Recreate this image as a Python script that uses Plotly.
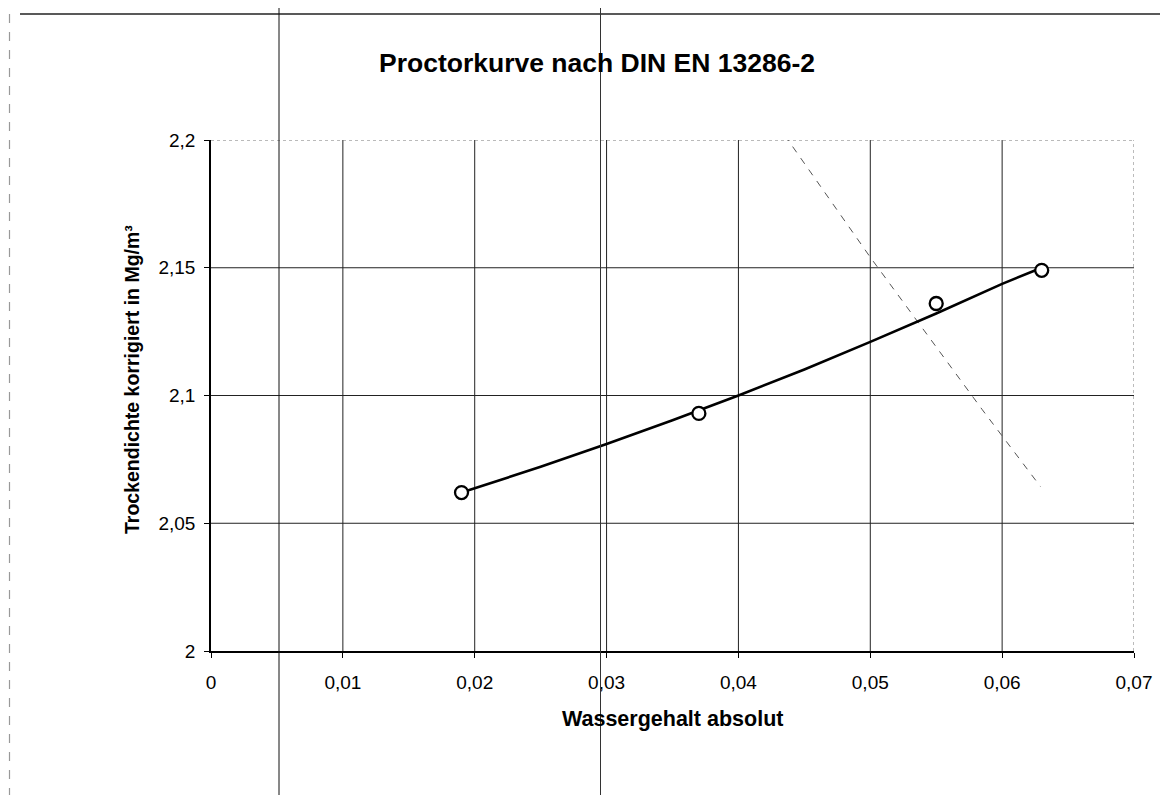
import plotly.graph_objects as go

# Measured points (Wassergehalt absolut, Trockendichte korrigiert)
water_content = [0.019, 0.037, 0.055, 0.063]
dry_density = [2.062, 2.093, 2.136, 2.149]

# Fitted Proctor curve
fit_w = [0.019, 0.025, 0.030, 0.035, 0.040, 0.045, 0.050, 0.055, 0.060, 0.063]
fit_rho = [2.0620, 2.0721, 2.0810, 2.0903, 2.1000, 2.1102, 2.1210, 2.1321, 2.1437, 2.1500]

# Saturation line (dashed)
sat_w = [0.0435, 0.0500, 0.0550, 0.0585, 0.0629]
sat_rho = [2.2019, 2.1541, 2.1190, 2.0944, 2.0644]

x_ticks = [0, 0.01, 0.02, 0.03, 0.04, 0.05, 0.06, 0.07]
x_tick_labels = ["0", "0,01", "0,02", "0,03", "0,04", "0,05", "0,06", "0,07"]
y_ticks = [2.0, 2.05, 2.1, 2.15, 2.2]
y_tick_labels = ["2", "2,05", "2,1", "2,15", "2,2"]

title_text = "Proctorkurve nach DIN EN 13286-2"
x_title = "Wassergehalt absolut"
y_title = "Trockendichte korrigiert in Mg/m³"

# page has an 8px body margin; figure is sized so it fits the window
OFF = 8
W, H = 1160, 787
L, T = 211 - OFF, 140 - OFF
R = W - (1134 - OFF)
B = H - (651 - OFF)
PW, PH = W - L - R, H - T - B


def px_x(p):
    return (p - OFF - L) / PW


def px_y(p):
    return (H - B - (p - OFF)) / PH


FONT = "Liberation Sans, Arial, sans-serif"

fig = go.Figure()

fig.add_trace(go.Scatter(
    x=sat_w, y=sat_rho, mode="lines",
    line=dict(color="#555555", width=1, dash="7px,7px"),
    showlegend=False, hoverinfo="skip"))

fig.add_trace(go.Scatter(
    x=fit_w, y=fit_rho, mode="lines",
    line=dict(color="black", width=2.6),
    showlegend=False))

fig.add_trace(go.Scatter(
    x=water_content, y=dry_density, mode="markers",
    marker=dict(symbol="circle", size=13, color="white",
                line=dict(color="black", width=2.3)),
    showlegend=False))

shapes = []
# inner gridlines
for v in x_ticks[1:-1]:
    shapes.append(dict(type="line", xref="x", yref="paper", x0=v, x1=v, y0=0, y1=1,
                       line=dict(color="#222222", width=1), layer="below"))
for v in y_ticks[1:-1]:
    shapes.append(dict(type="line", xref="paper", yref="y", x0=0, x1=1, y0=v, y1=v,
                       line=dict(color="#222222", width=1), layer="below"))
# dotted top and right frame
shapes.append(dict(type="line", xref="paper", yref="y", x0=0, x1=1, y0=y_ticks[-1], y1=y_ticks[-1],
                   line=dict(color="#777777", width=1, dash="dot"), layer="below"))
shapes.append(dict(type="line", xref="x", yref="paper", x0=x_ticks[-1], x1=x_ticks[-1], y0=0, y1=1,
                   line=dict(color="#777777", width=1, dash="dot"), layer="below"))

# page frame lines of the scanned sheet
shapes.append(dict(type="line", xref="paper", yref="paper", x0=px_x(20), x1=px_x(1168),
                   y0=px_y(14), y1=px_y(14), line=dict(color="#222222", width=1.3)))
shapes.append(dict(type="line", xref="paper", yref="paper", x0=px_x(9.5), x1=px_x(9.5),
                   y0=px_y(14), y1=px_y(795), line=dict(color="#999999", width=1.2, dash="dash")))
shapes.append(dict(type="line", xref="paper", yref="paper", x0=px_x(279), x1=px_x(279),
                   y0=px_y(8), y1=px_y(795), line=dict(color="#111111", width=1)))
shapes.append(dict(type="line", xref="paper", yref="paper", x0=px_x(600.5), x1=px_x(600.5),
                   y0=px_y(8), y1=px_y(795), line=dict(color="#333333", width=1)))

annotations = [
    dict(text="<b>" + title_text + "</b>", xref="paper", yref="paper",
         x=px_x(597), y=px_y(63), xanchor="center", yanchor="middle", showarrow=False,
         font=dict(family=FONT, size=26.5, color="black")),
    dict(text="<b>" + x_title + "</b>", xref="paper", yref="paper",
         x=px_x(672.5), y=px_y(719), xanchor="center", yanchor="middle", showarrow=False,
         font=dict(family=FONT, size=21.5, color="black")),
    dict(text="<b>" + y_title + "</b>", xref="paper", yref="paper",
         x=px_x(132), y=px_y(380), xanchor="center", yanchor="middle", showarrow=False,
         textangle=-90, font=dict(family=FONT, size=19.5, color="black")),
]

fig.update_layout(
    width=W, height=H,
    margin=dict(l=L, r=R, t=T, b=B, pad=0),
    paper_bgcolor="white", plot_bgcolor="white",
    font=dict(family=FONT, size=19, color="black"),
    shapes=shapes, annotations=annotations,
    showlegend=False,
)

fig.update_xaxes(
    range=[x_ticks[0], x_ticks[-1]], tickmode="array", tickvals=x_ticks, ticktext=x_tick_labels,
    showgrid=False, zeroline=False, showline=True, linecolor="black", linewidth=1.5,
    ticks="outside", ticklen=5, tickcolor="black", tickwidth=1,
    tickfont=dict(family=FONT, size=19, color="black"), ticklabelstandoff=8,
)
fig.update_yaxes(
    range=[y_ticks[0], y_ticks[-1]], tickmode="array", tickvals=y_ticks, ticktext=y_tick_labels,
    showgrid=False, zeroline=False, showline=True, linecolor="black", linewidth=1.5,
    ticks="outside", ticklen=5, tickcolor="black", tickwidth=1,
    tickfont=dict(family=FONT, size=19, color="black"), ticklabelstandoff=5,
)

fig.write_html("out.html")
